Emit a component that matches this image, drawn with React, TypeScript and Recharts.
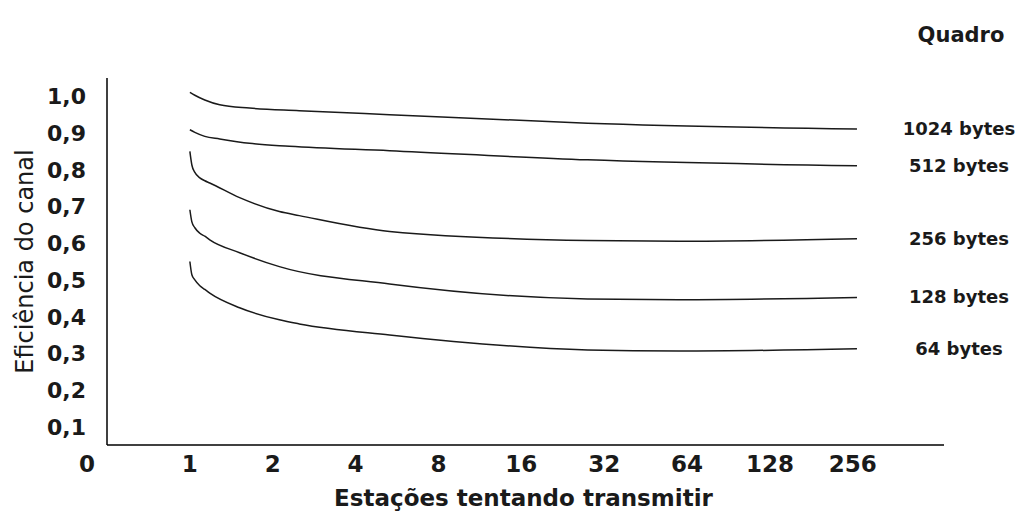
import React from "react";
import { LineChart, Line, XAxis, YAxis } from "recharts";

// x positions are steps on the doubling axis: 0 = 1 station, 8 = 256 stations
const stationPositions = [-1, 0, 1, 2, 3, 4, 5, 6, 7, 8];
const stationLabels = ["0", "1", "2", "4", "8", "16", "32", "64", "128", "256"];
const efficiencyTicks = [0.1, 0.2, 0.3, 0.4, 0.5, 0.6, 0.7, 0.8, 0.9, 1.0];

const frame1024 = [
  { pos: 0, eff: 1.011 },
  { pos: 0.06, eff: 1.003 },
  { pos: 0.18, eff: 0.99 },
  { pos: 0.36, eff: 0.977 },
  { pos: 0.72, eff: 0.968 },
  { pos: 1.32, eff: 0.961 },
  { pos: 2.41, eff: 0.95 },
  { pos: 4.8, eff: 0.927 },
  { pos: 8.05, eff: 0.911 },
];

const frame512 = [
  { pos: 0, eff: 0.909 },
  { pos: 0.06, eff: 0.902 },
  { pos: 0.18, eff: 0.891 },
  { pos: 0.36, eff: 0.884 },
  { pos: 0.72, eff: 0.872 },
  { pos: 1.2, eff: 0.864 },
  { pos: 2.41, eff: 0.852 },
  { pos: 4.8, eff: 0.827 },
  { pos: 8.05, eff: 0.811 },
];

const frame256 = [
  { pos: 0, eff: 0.85 },
  { pos: 0.024, eff: 0.813 },
  { pos: 0.06, eff: 0.793 },
  { pos: 0.12, eff: 0.778 },
  { pos: 0.18, eff: 0.77 },
  { pos: 0.24, eff: 0.764 },
  { pos: 0.6, eff: 0.724 },
  { pos: 1.08, eff: 0.686 },
  { pos: 1.32, eff: 0.675 },
  { pos: 2.41, eff: 0.632 },
  { pos: 4.8, eff: 0.607 },
  { pos: 5.9, eff: 0.605 },
  { pos: 8.05, eff: 0.612 },
];

const frame128 = [
  { pos: 0, eff: 0.691 },
  { pos: 0.024, eff: 0.658 },
  { pos: 0.06, eff: 0.642 },
  { pos: 0.12, eff: 0.627 },
  { pos: 0.18, eff: 0.619 },
  { pos: 0.24, eff: 0.609 },
  { pos: 0.6, eff: 0.574 },
  { pos: 1.08, eff: 0.536 },
  { pos: 2.41, eff: 0.489 },
  { pos: 4.8, eff: 0.448 },
  { pos: 5.9, eff: 0.446 },
  { pos: 8.05, eff: 0.452 },
];

const frame64 = [
  { pos: 0, eff: 0.55 },
  { pos: 0.024, eff: 0.514 },
  { pos: 0.06, eff: 0.5 },
  { pos: 0.12, eff: 0.484 },
  { pos: 0.18, eff: 0.474 },
  { pos: 0.24, eff: 0.464 },
  { pos: 0.6, eff: 0.424 },
  { pos: 1.08, eff: 0.391 },
  { pos: 1.32, eff: 0.38 },
  { pos: 2.41, eff: 0.35 },
  { pos: 4.8, eff: 0.309 },
  { pos: 5.9, eff: 0.306 },
  { pos: 8.05, eff: 0.312 },
];

const series = [
  { name: "1024 bytes", data: frame1024 },
  { name: "512 bytes", data: frame512 },
  { name: "256 bytes", data: frame256 },
  { name: "128 bytes", data: frame128 },
  { name: "64 bytes", data: frame64 },
];

const FONT = "'DejaVu Sans', sans-serif";
const INK = "#1a1a1a";

const StationTick = ({ x, y, payload }: any) => {
  const i = stationPositions.indexOf(payload.value);
  return (
    <text
      x={payload.value === -1 ? x - 20 : x}
      y={y}
      dy={27}
      textAnchor="middle"
      fontFamily={FONT}
      fontWeight="bold"
      fontSize={23}
      fill={INK}
    >
      {stationLabels[i]}
    </text>
  );
};

const EffTick = ({ x, y, payload }: any) => (
  <text
    x={x - 21}
    y={y}
    dy={8}
    textAnchor="end"
    fontFamily={FONT}
    fontWeight="bold"
    fontSize={22}
    fill={INK}
  >
    {payload.value.toFixed(1).replace(".", ",")}
  </text>
);

const endLabel = (name: string, last: number) => (props: any) => {
  if (props.index !== last) return null;
  return (
    <text
      key={name}
      x={props.x + 102}
      y={props.y}
      dy={6}
      textAnchor="middle"
      fontFamily={FONT}
      fontWeight="bold"
      fontSize={18}
      fill={INK}
    >
      {name}
    </text>
  );
};

export default function App() {
  return (
    <div style={{ position: "absolute", left: 0, top: 0, background: "#fff" }}>
      <LineChart
        width={1027}
        height={513}
        margin={{ top: 78, right: 83, bottom: 38, left: 47 }}
      >
        <XAxis
          type="number"
          dataKey="pos"
          domain={[-1, 9.1]}
          ticks={stationPositions}
          allowDataOverflow
          height={30}
          tickLine={false}
          tickSize={0}
          tickMargin={0}
          axisLine={{ stroke: "#000", strokeWidth: 1.5 }}
          tick={<StationTick />}
          label={{
            content: ({ viewBox }: any) => (
              <text
                x={viewBox.x + viewBox.width / 2 - 2}
                y={506}
                textAnchor="middle"
                fontFamily={FONT}
                fontWeight="bold"
                fontSize={23}
                fill={INK}
              >
                Estações tentando transmitir
              </text>
            ),
          }}
        />
        <YAxis
          type="number"
          dataKey="eff"
          domain={[0.05, 1.05]}
          ticks={efficiencyTicks}
          allowDataOverflow
          width={60}
          tickLine={false}
          tickSize={0}
          tickMargin={0}
          axisLine={{ stroke: "#000", strokeWidth: 1.5 }}
          tick={<EffTick />}
          label={{
            content: ({ viewBox }: any) => {
              const cy = viewBox.y + viewBox.height / 2;
              return (
                <text
                  x={33}
                  y={cy}
                  transform={`rotate(-90, 33, ${cy})`}
                  textAnchor="middle"
                  fontFamily={FONT}
                  fontSize={24}
                  fill={INK}
                >
                  Eficiência do canal
                </text>
              );
            },
          }}
        />
        {series.map((s) => (
          <Line
            key={s.name}
            data={s.data}
            dataKey="eff"
            type="monotone"
            stroke={INK}
            strokeWidth={1.5}
            dot={false}
            activeDot={false}
            isAnimationActive={false}
            label={endLabel(s.name, s.data.length - 1)}
          />
        ))}
        <text
          x={961}
          y={34}
          dy={8}
          textAnchor="middle"
          fontFamily={FONT}
          fontWeight="bold"
          fontSize={21}
          fill={INK}
        >
          Quadro
        </text>
      </LineChart>
    </div>
  );
}
